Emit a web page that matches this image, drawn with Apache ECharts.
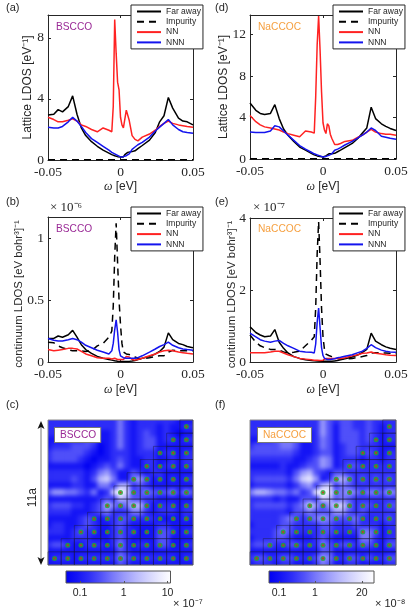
<!DOCTYPE html>
<html><head><meta charset="utf-8">
<script src="https://cdn.jsdelivr.net/npm/echarts@6/dist/echarts.min.js"></script>
<style>
html,body{margin:0;padding:0;background:#fff;width:415px;height:614px;overflow:hidden}
#main{position:absolute;left:0;top:0;width:415px;height:614px;z-index:2}
.hw{position:absolute;overflow:hidden;background:#1c1cf6;z-index:1}
.hi{position:absolute;filter:blur(2px)}
</style></head><body>
<div class="hw" style="left:48px;top:420px;width:145px;height:145px"><div class="hi" id="hc" style="left:-3px;top:-3px;width:151px;height:151px"></div></div>
<div class="hw" style="left:250px;top:420px;width:146px;height:145px"><div class="hi" id="hf" style="left:-3px;top:-3px;width:152px;height:151px"></div></div>
<div id="main"></div>
<script>
const omega=[-.05,-.046,-.043,-.04,-.036,-.033,-.03,-.027,-.024,-.02,
 -.016,-.012,-.008,-.006,-.005,-.004,-.003,-.002,-.001,0,
 .001,.002,.003,.004,.005,.006,.008,.01,.012,.015,
 .02,.024,.027,.03,.033,.036,.04,.043,.046,.05];
// Panel (a) BSCCO lattice
const aFar=[2.95,3.0,3.3,3.15,3.5,4.2,3.0,2.1,1.6,1.2, .9,.65,.45,.35,.3,.28,.25,.22,.2,.2, .18,.2,.35,.45,.5,.55,.55,.6,.75,.95, 1.3,1.8,2.5,2.9,4.1,3.4,2.75,2.55,2.5,2.3];
const aImp=[.02,.02,.02,.02,.02,.02,.02,.02,.02,.02, .02,.02,.02,.02,.02,.02,.02,.02,.02,.02, .02,.02,.02,.02,.02,.02,.02,.02,.02,.02, .02,.02,.02,.02,.02,.02,.02,.02,.02,.02];
const aNN=[2.8,2.65,2.5,2.5,2.6,2.7,2.55,2.3,2.2,2.0, 1.85,2.1,1.95,1.85,3.5,9.2,7.0,5.1,4.6,2.8, 2.3,2.1,2.1,3.27,3.15,2.6,1.6,1.35,1.25,1.5, 1.7,1.95,2.2,2.4,2.55,2.4,2.3,2.25,2.2,2.15];
const aNNN=[2.15,2.1,2.1,2.2,2.5,2.8,2.55,2.2,1.8,1.4, 1.15,.9,.65,.5,.45,.4,.35,.3,.25,.2, .2,.22,.25,.28,.35,.4,.7,.85,1.0,1.15, 1.5,1.9,2.15,2.4,2.65,2.3,2.0,1.85,1.8,1.75];
// Panel (d) NaCCOC lattice
const dFar=[5.4,4.7,4.4,4.3,4.4,5.25,3.9,2.9,2.3,1.7, 1.15,.85,.55,.4,.35,.3,.28,.25,.22,.2, .2,.3,.45,.5,.55,.5,.55,.7,.85,1.1, 1.5,2.0,2.5,3.0,5.0,3.9,3.4,3.15,2.95,2.75];
const dImp=[.02,.02,.02,.02,.02,.02,.02,.02,.02,.02, .02,.02,.02,.02,.02,.02,.02,.02,.02,.02, .02,.02,.02,.02,.02,.02,.02,.02,.02,.02, .02,.02,.02,.02,.02,.02,.02,.02,.02,.02];
const dNN=[4.2,3.6,3.3,3.1,3.0,2.9,2.8,2.6,2.45,2.3, 2.15,2.7,2.6,2.5,6.0,11.0,13.8,10.5,6.5,3.5, 2.8,2.46,3.4,3.2,2.4,2.0,1.4,1.4,1.5,1.7, 1.8,2.1,2.3,2.6,2.85,2.6,2.45,2.4,2.4,2.3];
const dNNN=[2.6,2.55,2.55,2.55,2.7,3.2,3.1,2.7,2.3,1.8, 1.3,.95,.65,.5,.45,.4,.35,.3,.25,.2, .25,.25,.3,.35,.4,.5,.85,.95,1.1,1.35, 1.7,2.05,2.3,2.6,3.0,2.75,2.2,2.1,2.0,1.9];
// Panel (b) BSCCO continuum, units of 1e-6
const bFar=[.19,.19,.21,.2,.22,.255,.2,.14,.1,.07, .045,.03,.02,.015,.012,.01,.008,.006,.005,.005, .005,.005,.005,.005,.005,.005,.008,.012,.02,.03, .045,.065,.085,.12,.235,.18,.15,.14,.125,.115];
const bImp=[.16,.155,.13,.115,.1,.09,.09,.09,.085,.09, .13,.15,.2,.25,.45,.85,1.12,.8,.5,.3, .15,.08,.07,.065,.06,.06,.05,.04,.03,.025, .035,.045,.05,.05,.08,.095,.09,.09,.09,.09];
const bNN=[.1,.09,.095,.1,.11,.11,.105,.085,.065,.05, .035,.03,.03,.025,.03,.03,.025,.02,.02,.02, .02,.02,.03,.045,.055,.04,.02,.015,.02,.03, .05,.065,.08,.09,.095,.09,.08,.075,.07,.065];
const bNNN=[.19,.175,.17,.17,.18,.19,.18,.16,.135,.115, .095,.08,.065,.09,.15,.26,.34,.24,.1,.05, .04,.035,.03,.03,.025,.03,.03,.03,.035,.05, .08,.105,.125,.14,.16,.135,.115,.105,.1,.095];
// Panel (e) NaCCOC continuum, units of 1e-7
const eFar=[.98,.82,.75,.7,.72,.9,.55,.38,.25,.15, .1,.06,.04,.035,.03,.03,.025,.02,.02,.02, .02,.02,.02,.02,.02,.02,.03,.04,.06,.09, .14,.2,.27,.35,.8,.58,.48,.42,.38,.35];
const eImp=[.75,.55,.45,.4,.35,.35,.33,.28,.25,.27, .3,.45,.6,.7,1.5,3.0,3.9,2.8,1.5,.7, .35,.22,.2,.18,.16,.15,.12,.1,.08,.08, .1,.13,.15,.18,.25,.26,.25,.25,.24,.23];
const eNN=[.26,.26,.26,.26,.28,.3,.3,.25,.2,.15, .1,.08,.06,.05,.05,.05,.04,.04,.04,.05, .08,.1,.1,.1,.1,.1,.1,.1,.1,.12, .17,.2,.24,.25,.28,.24,.22,.2,.19,.18];
const eNNN=[.8,.7,.62,.58,.55,.58,.6,.52,.45,.38, .3,.28,.27,.25,.5,1.1,1.5,.95,.4,.18, .1,.08,.07,.07,.07,.08,.09,.12,.13,.16, .2,.26,.3,.38,.48,.4,.33,.3,.28,.27];
const seriesNames=["Far away","Impurity","NN","NNN"];
// Map levels on half-cell spacing (0 = saturated blue, 9 = white)
const heatC=[
[2,2,2,2,2,2,2,2,2,2,2,4,2,1,2,2,2,2,2,2,1,1,1],
[2,2,2,2,2,2,2,2,2,2,2,4,2,1,2,2,2,1,2,1,1,2,2],
[2,2,2,2,2,2,3,3,1,1,2,4,2,1,2,3,2,1,2,1,0,1,1],
[1,1,1,2,2,2,3,3,1,1,2,4,2,1,2,3,3,1,2,2,1,2,2],
[1,2,2,2,3,3,3,2,0,1,2,4,2,1,2,3,3,1,1,1,1,1,1],
[2,3,3,3,3,3,2,1,0,1,2,2,2,1,2,2,2,1,2,2,1,2,2],
[2,3,3,3,3,2,1,0,1,1,2,3,2,1,1,2,2,1,1,2,1,2,2],
[1,1,1,1,1,1,0,1,2,3,2,4,2,1,1,2,2,1,2,2,1,2,2],
[2,2,2,2,2,2,1,2,4,5,3,1,1,3,2,1,2,2,1,1,1,1,1],
[2,2,2,2,3,2,1,3,6,7,4,1,1,4,5,3,1,2,1,2,1,2,2],
[1,1,1,1,2,2,1,1,4,4,2,6,6,2,3,2,1,1,1,1,1,1,1],
[3,5,5,4,4,3,2,4,1,2,7,9,7,3,3,4,3,3,3,4,2,4,3],
[1,1,1,1,1,1,1,1,2,3,2,6,5,3,3,2,2,1,1,1,1,1,1],
[2,3,3,3,2,2,1,2,3,6,4,3,4,6,6,3,1,2,2,2,1,2,2],
[2,2,2,2,1,1,1,2,3,4,2,2,2,4,4,2,1,2,2,2,1,2,2],
[1,1,1,1,1,2,3,2,1,2,2,3,3,2,2,2,2,1,1,1,1,2,1],
[1,2,2,1,1,2,3,2,1,1,2,3,2,1,1,1,1,2,2,1,1,1,1],
[2,2,2,1,2,3,2,2,1,1,2,3,2,2,1,1,1,3,3,2,1,2,2],
[1,1,1,1,2,2,2,1,1,1,2,3,2,1,1,1,1,3,3,1,1,1,1],
[2,3,3,2,1,1,2,2,2,1,2,4,2,1,2,2,1,3,3,1,1,2,2],
[1,1,1,1,1,1,1,1,1,1,1,3,2,1,1,1,1,1,1,1,1,1,1],
[1,2,2,2,1,2,2,2,2,2,2,4,3,2,2,2,2,2,2,2,1,2,2],
[1,1,1,1,1,1,1,1,1,1,1,3,2,1,1,1,1,1,1,1,1,1,1]];
const heatF=[
[2,2,2,2,2,2,2,2,2,2,2,5,3,2,3,3,2,2,3,2,2,2,2],
[2,2,2,2,2,2,2,2,2,2,2,5,3,1,3,3,2,2,3,2,1,2,2],
[2,2,2,2,3,3,3,3,1,1,2,5,3,1,3,3,3,2,3,2,1,2,2],
[1,1,2,2,3,4,4,3,1,1,2,4,3,1,3,3,3,2,3,2,1,2,2],
[2,3,3,3,3,4,4,3,1,1,2,4,3,1,2,3,3,2,2,2,1,1,1],
[3,3,3,3,3,3,3,2,1,1,2,3,3,1,2,3,3,2,3,2,1,2,2],
[2,2,2,2,2,2,2,1,1,2,3,5,4,1,2,2,2,1,2,2,1,2,2],
[1,1,1,1,1,2,1,1,2,3,3,5,4,1,2,3,3,2,2,2,2,2,2],
[2,2,2,2,2,2,1,3,5,6,3,2,1,3,3,2,2,2,2,2,2,2,2],
[2,3,3,3,3,3,2,4,7,8,5,1,2,5,6,4,2,3,2,3,2,3,2],
[1,2,2,2,2,2,1,2,4,5,2,6,7,2,4,3,2,2,2,2,2,2,2],
[4,6,6,5,4,4,3,4,2,3,8,9,8,4,4,5,4,3,4,4,3,5,4],
[2,2,2,2,1,2,1,1,3,3,2,7,6,3,4,3,2,2,2,2,2,2,2],
[2,3,3,3,3,3,2,3,4,7,5,3,5,7,7,4,2,3,3,2,2,3,3],
[2,2,2,2,2,2,1,3,3,4,3,3,3,5,5,3,2,3,2,2,2,2,2],
[2,2,2,2,2,3,4,3,2,3,4,5,4,3,3,3,4,2,2,2,2,3,2],
[1,2,2,2,2,3,3,2,2,2,2,3,3,2,2,2,3,2,2,2,1,2,2],
[2,2,2,2,3,4,3,2,2,2,2,3,3,2,2,2,2,4,4,3,1,2,2],
[1,2,2,2,3,3,2,1,1,1,2,3,2,1,1,1,1,4,4,2,1,2,2],
[2,3,3,3,2,2,3,3,2,2,2,4,3,2,3,3,2,3,3,2,1,3,3],
[1,1,1,1,1,1,1,1,1,1,1,3,3,1,1,1,1,1,1,1,1,1,1],
[2,3,3,2,2,3,3,2,2,2,3,5,4,2,2,3,3,2,3,2,2,3,3],
[1,2,2,2,1,2,2,1,1,1,2,4,3,1,1,2,2,1,1,1,1,2,2]];
// First occupied column of each lattice row, top to bottom
const latticeStart=[10,9,8,7,6,5,4,3,2,1,0];
const cbTicksC=[0.1,1,10];
const cbTicksF=[0.1,1,20];

const SERIF='"Liberation Serif",serif', SANS='"Liberation Sans",sans-serif', INK='#262626';
const mapColors=['#0000f2','#1414f5','#2e2ef7','#5050f9','#7878fa','#9a9afb','#b8b8fc','#d2d2fd','#eaeafe','#ffffff'];

function heat(id,rows){
  const c=echarts.init(document.getElementById(id),null,{renderer:'canvas'});
  const data=[];rows.forEach((r,j)=>r.forEach((v,i)=>data.push([i,j,v])));
  const idx=rows[0].map((_,i)=>i);
  c.setOption({animation:false,
    grid:{left:0,right:0,top:0,bottom:0},
    xAxis:{type:'category',data:idx,show:false},
    yAxis:{type:'category',data:idx,inverse:true,show:false},
    visualMap:{show:false,min:0,max:9,inRange:{color:mapColors}},
    series:[{type:'heatmap',data,progressive:0}]});
}
heat('hc',heatC);heat('hf',heatF);

const grids=[],xA=[],yA=[],series=[],legends=[],gfx=[];
function panel(o){
  const g=grids.length;
  grids.push({left:o.l,top:o.t,width:o.w,height:o.h});
  const line={show:true,lineStyle:{color:INK,width:1},onZero:false};
  const tick={show:true,inside:true,length:3,lineStyle:{color:INK,width:1}};
  const xi=xA.length, yi=yA.length;
  xA.push({gridIndex:g,type:'value',min:-0.05,max:0.05,interval:0.05,axisLine:line,axisTick:tick,splitLine:{show:false},
    axisLabel:{fontFamily:SERIF,fontSize:13.5,color:INK,margin:5,hideOverlap:false},
    name:'{w|ω} [eV]',nameLocation:'middle',nameGap:o.ng||20,nameMoveOverlap:false,
    nameTextStyle:{fontFamily:SANS,fontSize:12,color:INK,rich:{w:{fontFamily:SERIF,fontStyle:'italic',fontSize:12,color:INK}}}});
  xA.push({gridIndex:g,type:'value',position:'top',min:-0.05,max:0.05,interval:0.05,axisLine:line,axisTick:tick,axisLabel:{show:false},splitLine:{show:false}});
  yA.push({gridIndex:g,type:'value',min:0,max:o.max,interval:o.int,axisLine:line,axisTick:tick,splitLine:{show:false},
    axisLabel:{fontFamily:SERIF,fontSize:13.5,color:INK,margin:4,showMaxLabel:o.showMax||false},
    name:o.yn,nameLocation:'middle',nameGap:o.yg,nameMoveOverlap:false,nameTextStyle:{fontFamily:SANS,fontSize:o.yf||12,color:INK,padding:o.yp||0}});
  yA.push({gridIndex:g,type:'value',position:'right',min:0,max:o.max,interval:o.int,axisLine:line,axisTick:tick,axisLabel:{show:false},splitLine:{show:false}});
  const cols=['#000000','#000000','#ff2222','#1414ee'];
  o.d.forEach((arr,k)=>series.push({type:'line',name:seriesNames[k],xAxisIndex:xi,yAxisIndex:yi,showSymbol:false,symbol:'none',
    data:omega.map((x,i)=>[x,arr[i]]),
    lineStyle:{color:cols[k],width:1.5,type:k===1?[7,5]:'solid'},itemStyle:{color:cols[k]},z:3+k,clip:true}));
  legends.push({data:seriesNames,left:o.ll,top:o.lt,orient:'vertical',itemWidth:24,itemHeight:8,itemGap:1.3,padding:[2,2,2,5],
    backgroundColor:'#fff',borderColor:INK,borderWidth:1,borderRadius:0,textStyle:{fontFamily:SANS,fontSize:8.5,color:INK},selectedMode:false,z:10,
    itemStyle:{color:'rgba(0,0,0,0)',borderWidth:0,opacity:0}});
}
panel({l:48,t:15,w:145,h:145,max:9.5,int:4,d:[aFar,aImp,aNN,aNNN],yn:'Lattice LDOS [eV⁻¹]',yg:14,ll:131,lt:5,ng:21});
panel({l:250,t:15,w:146,h:144,max:13.9,int:4,d:[dFar,dImp,dNN,dNNN],yn:'Lattice LDOS [eV⁻¹]',yg:20,ll:333,lt:5,ng:22});
panel({l:48,t:217,w:145,h:145,max:1.17,int:.5,d:[bFar,bImp,bNN,bNNN],yn:'continuum LDOS [eV bohr³]⁻¹',yg:24,yf:11.4,yp:[0,9,0,0],ll:131,lt:207,ng:22});
panel({l:250,t:218,w:146,h:144,max:4,int:2,d:[eFar,eImp,eNN,eNNN],yn:'continuum LDOS [eV bohr³]⁻¹',yg:13,yf:11.4,yp:[0,9,0,0],ll:333,lt:207,ng:22,showMax:true});

function latticePanel(l,t,w,h){
  const g=grids.length;
  grids.push({left:l,top:t,width:w,height:h,show:true,borderColor:'#8a8a8a',borderWidth:1,backgroundColor:'transparent'});
  const xi=xA.length,yi=yA.length;
  xA.push({gridIndex:g,type:'value',min:0,max:11,show:false});
  yA.push({gridIndex:g,type:'value',min:0,max:11,inverse:true,show:false});
  const pts=[];latticeStart.forEach((s,r)=>{for(let c=s;c<11;c++)pts.push([c+.5,r+.5]);});
  series.push({type:'scatter',xAxisIndex:xi,yAxisIndex:yi,data:pts,symbol:'rect',symbolSize:w/11,silent:true,
    itemStyle:{color:'rgba(0,0,0,0)',borderColor:'rgba(25,25,60,.62)',borderWidth:.9},z:3});
  series.push({type:'scatter',xAxisIndex:xi,yAxisIndex:yi,data:pts,symbol:'circle',symbolSize:5,silent:true,itemStyle:{color:'#1fa82a'},z:4});
  series.push({type:'scatter',xAxisIndex:xi,yAxisIndex:yi,data:pts,symbol:'circle',symbolSize:2.2,silent:true,itemStyle:{color:'#e02818'},z:5});
}
latticePanel(48,420,145,145);
latticePanel(250,420,146,145);

function colorbar(l,t,w,h,mn,mx,ticks){
  const g=grids.length;
  const stops=mapColors.map((c,i)=>({offset:i/(mapColors.length-1),color:c}));
  grids.push({left:l,top:t,width:w,height:h,show:true,borderColor:'#555',borderWidth:1,
    backgroundColor:new echarts.graphic.LinearGradient(0,0,1,0,stops)});
  xA.push({gridIndex:g,type:'log',logBase:10,min:mn,max:mx,z:8,
    axisLine:{show:false},splitLine:{show:false},
    axisTick:{show:true,inside:true,length:2,customValues:ticks,lineStyle:{color:'#555',width:1}},
    axisLabel:{show:true,customValues:ticks,fontFamily:SANS,fontSize:10.5,color:INK,margin:5,formatter:v=>String(+(+v).toPrecision(3))}});
  yA.push({gridIndex:g,type:'value',min:0,max:1,show:false});
}
colorbar(66,571,104.5,12,.0477,11.7,cbTicksC);
colorbar(269,571,105,12,.0527,43.6,cbTicksF);

function txt(x,y,t,o){gfx.push({type:'text',left:x,top:y,z:20,silent:true,style:Object.assign({text:t,fontFamily:SANS,fontSize:11,fill:INK},o||{})});}
txt(6,2,'(a)');txt(215,2,'(d)');txt(6,196,'(b)');txt(215,196,'(e)');txt(6,399,'(c)');txt(215,399,'(f)');
const PURPLE='#9a2a96',ORANGE='#f6a040';
txt(56,22,'BSCCO',{fill:PURPLE,fontSize:10.2});
txt(258,22,'NaCCOC',{fill:ORANGE,fontSize:10.2});
txt(56,224,'BSCCO',{fill:PURPLE,fontSize:10.2});
txt(258,224,'NaCCOC',{fill:ORANGE,fontSize:10.2});
txt(54,427,'BSCCO',{fill:PURPLE,fontSize:10.2,backgroundColor:'#fff',borderColor:'#777',borderWidth:1,padding:[2,4,2,5]});
txt(257,427,'NaCCOC',{fill:ORANGE,fontSize:10.2,backgroundColor:'#fff',borderColor:'#777',borderWidth:1,padding:[2,5,2,5]});
txt(50,201,'× 10⁻⁶',{fontFamily:SERIF,fontSize:13});
txt(253,201,'× 10⁻⁷',{fontFamily:SERIF,fontSize:13});
txt(173,598,'× 10⁻⁷',{fontSize:11});
txt(375,598,'× 10⁻⁸',{fontSize:11});
// double arrow and its label
gfx.push({type:'line',z:19,silent:true,shape:{x1:41,y1:424,x2:41,y2:561},style:{stroke:'#777',lineWidth:1}});
gfx.push({type:'polygon',z:20,silent:true,shape:{points:[[41,421],[37.5,429],[41,427],[44.5,429]]},style:{fill:'#111'}});
gfx.push({type:'polygon',z:20,silent:true,shape:{points:[[41,565],[37.5,557],[41,559],[44.5,557]]},style:{fill:'#111'}});
gfx.push({type:'text',z:20,silent:true,left:27,top:488,rotation:Math.PI/2,originX:0,originY:0,style:{text:'11a',fontFamily:SANS,fontSize:12,fill:INK}});

const chart=echarts.init(document.getElementById('main'),null,{renderer:'canvas'});
chart.setOption({animation:false,grid:grids,xAxis:xA,yAxis:yA,legend:legends,series,graphic:gfx,tooltip:{show:false}});
</script></body></html>
